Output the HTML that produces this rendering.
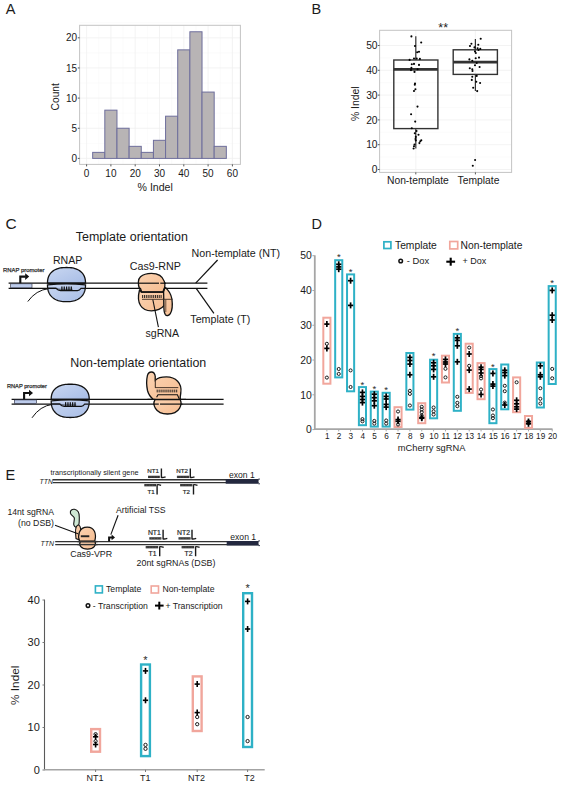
<!DOCTYPE html>
<html><head><meta charset="utf-8"><style>
html,body{margin:0;padding:0;background:#fff;}
svg{display:block;font-family:"Liberation Sans", sans-serif;}
</style></head><body>
<svg width="561" height="785" viewBox="0 0 561 785">
<rect width="561" height="785" fill="#fff"/>
<defs>
<linearGradient id="gb" x1="0" y1="0" x2="1" y2="1"><stop offset="0" stop-color="#c9d7f1"/><stop offset="1" stop-color="#a8bde6"/></linearGradient>
<linearGradient id="gp" x1="0" y1="0" x2="1" y2="1"><stop offset="0" stop-color="#fbd3b2"/><stop offset="1" stop-color="#f6bd91"/></linearGradient>
</defs>
<text x="5.80" y="13.90" font-size="14.5" text-anchor="start" fill="#1a1a1a" >A</text>
<rect x="79.60" y="25.30" width="160.80" height="139.10" fill="#fff" stroke="none" stroke-width="1" />
<line x1="98.75" y1="25.30" x2="98.75" y2="164.40" stroke="#f7f7f7" stroke-width="0.5" />
<line x1="123.05" y1="25.30" x2="123.05" y2="164.40" stroke="#f7f7f7" stroke-width="0.5" />
<line x1="147.35" y1="25.30" x2="147.35" y2="164.40" stroke="#f7f7f7" stroke-width="0.5" />
<line x1="171.65" y1="25.30" x2="171.65" y2="164.40" stroke="#f7f7f7" stroke-width="0.5" />
<line x1="195.95" y1="25.30" x2="195.95" y2="164.40" stroke="#f7f7f7" stroke-width="0.5" />
<line x1="220.25" y1="25.30" x2="220.25" y2="164.40" stroke="#f7f7f7" stroke-width="0.5" />
<line x1="79.60" y1="143.33" x2="240.40" y2="143.33" stroke="#f7f7f7" stroke-width="0.5" />
<line x1="79.60" y1="113.18" x2="240.40" y2="113.18" stroke="#f7f7f7" stroke-width="0.5" />
<line x1="79.60" y1="83.03" x2="240.40" y2="83.03" stroke="#f7f7f7" stroke-width="0.5" />
<line x1="79.60" y1="52.88" x2="240.40" y2="52.88" stroke="#f7f7f7" stroke-width="0.5" />
<line x1="79.60" y1="22.72" x2="240.40" y2="22.72" stroke="#f7f7f7" stroke-width="0.5" />
<line x1="86.60" y1="25.30" x2="86.60" y2="164.40" stroke="#f0f0f0" stroke-width="0.8" />
<line x1="110.90" y1="25.30" x2="110.90" y2="164.40" stroke="#f0f0f0" stroke-width="0.8" />
<line x1="135.20" y1="25.30" x2="135.20" y2="164.40" stroke="#f0f0f0" stroke-width="0.8" />
<line x1="159.50" y1="25.30" x2="159.50" y2="164.40" stroke="#f0f0f0" stroke-width="0.8" />
<line x1="183.80" y1="25.30" x2="183.80" y2="164.40" stroke="#f0f0f0" stroke-width="0.8" />
<line x1="208.10" y1="25.30" x2="208.10" y2="164.40" stroke="#f0f0f0" stroke-width="0.8" />
<line x1="232.40" y1="25.30" x2="232.40" y2="164.40" stroke="#f0f0f0" stroke-width="0.8" />
<line x1="79.60" y1="158.40" x2="240.40" y2="158.40" stroke="#f0f0f0" stroke-width="0.8" />
<line x1="79.60" y1="128.25" x2="240.40" y2="128.25" stroke="#f0f0f0" stroke-width="0.8" />
<line x1="79.60" y1="98.10" x2="240.40" y2="98.10" stroke="#f0f0f0" stroke-width="0.8" />
<line x1="79.60" y1="67.95" x2="240.40" y2="67.95" stroke="#f0f0f0" stroke-width="0.8" />
<line x1="79.60" y1="37.80" x2="240.40" y2="37.80" stroke="#f0f0f0" stroke-width="0.8" />
<rect x="92.67" y="152.37" width="12.15" height="6.03" fill="#b8b4b5" stroke="#6e6e9c" stroke-width="1.0" />
<rect x="104.82" y="110.16" width="12.15" height="48.24" fill="#b8b4b5" stroke="#6e6e9c" stroke-width="1.0" />
<rect x="116.97" y="128.25" width="12.15" height="30.15" fill="#b8b4b5" stroke="#6e6e9c" stroke-width="1.0" />
<rect x="129.12" y="146.34" width="12.15" height="12.06" fill="#b8b4b5" stroke="#6e6e9c" stroke-width="1.0" />
<rect x="141.28" y="152.37" width="12.15" height="6.03" fill="#b8b4b5" stroke="#6e6e9c" stroke-width="1.0" />
<rect x="153.43" y="140.31" width="12.15" height="18.09" fill="#b8b4b5" stroke="#6e6e9c" stroke-width="1.0" />
<rect x="165.57" y="116.19" width="12.15" height="42.21" fill="#b8b4b5" stroke="#6e6e9c" stroke-width="1.0" />
<rect x="177.72" y="49.86" width="12.15" height="108.54" fill="#b8b4b5" stroke="#6e6e9c" stroke-width="1.0" />
<rect x="189.88" y="31.77" width="12.15" height="126.63" fill="#b8b4b5" stroke="#6e6e9c" stroke-width="1.0" />
<rect x="202.03" y="92.07" width="12.15" height="66.33" fill="#b8b4b5" stroke="#6e6e9c" stroke-width="1.0" />
<rect x="214.18" y="146.34" width="12.15" height="12.06" fill="#b8b4b5" stroke="#6e6e9c" stroke-width="1.0" />
<rect x="79.60" y="25.30" width="160.80" height="139.10" fill="none" stroke="#c4c4c4" stroke-width="1.0" />
<line x1="77.80" y1="158.40" x2="79.60" y2="158.40" stroke="#444" stroke-width="0.9" />
<text x="77.10" y="162.00" font-size="10" text-anchor="end" fill="#1a1a1a" >0</text>
<line x1="77.80" y1="128.25" x2="79.60" y2="128.25" stroke="#444" stroke-width="0.9" />
<text x="77.10" y="131.85" font-size="10" text-anchor="end" fill="#1a1a1a" >5</text>
<line x1="77.80" y1="98.10" x2="79.60" y2="98.10" stroke="#444" stroke-width="0.9" />
<text x="77.10" y="101.70" font-size="10" text-anchor="end" fill="#1a1a1a" >10</text>
<line x1="77.80" y1="67.95" x2="79.60" y2="67.95" stroke="#444" stroke-width="0.9" />
<text x="77.10" y="71.55" font-size="10" text-anchor="end" fill="#1a1a1a" >15</text>
<line x1="77.80" y1="37.80" x2="79.60" y2="37.80" stroke="#444" stroke-width="0.9" />
<text x="77.10" y="41.40" font-size="10" text-anchor="end" fill="#1a1a1a" >20</text>
<line x1="86.60" y1="164.40" x2="86.60" y2="166.40" stroke="#444" stroke-width="0.9" />
<text x="86.60" y="176.60" font-size="10" text-anchor="middle" fill="#1a1a1a" >0</text>
<line x1="110.90" y1="164.40" x2="110.90" y2="166.40" stroke="#444" stroke-width="0.9" />
<text x="110.90" y="176.60" font-size="10" text-anchor="middle" fill="#1a1a1a" >10</text>
<line x1="135.20" y1="164.40" x2="135.20" y2="166.40" stroke="#444" stroke-width="0.9" />
<text x="135.20" y="176.60" font-size="10" text-anchor="middle" fill="#1a1a1a" >20</text>
<line x1="159.50" y1="164.40" x2="159.50" y2="166.40" stroke="#444" stroke-width="0.9" />
<text x="159.50" y="176.60" font-size="10" text-anchor="middle" fill="#1a1a1a" >30</text>
<line x1="183.80" y1="164.40" x2="183.80" y2="166.40" stroke="#444" stroke-width="0.9" />
<text x="183.80" y="176.60" font-size="10" text-anchor="middle" fill="#1a1a1a" >40</text>
<line x1="208.10" y1="164.40" x2="208.10" y2="166.40" stroke="#444" stroke-width="0.9" />
<text x="208.10" y="176.60" font-size="10" text-anchor="middle" fill="#1a1a1a" >50</text>
<line x1="232.40" y1="164.40" x2="232.40" y2="166.40" stroke="#444" stroke-width="0.9" />
<text x="232.40" y="176.60" font-size="10" text-anchor="middle" fill="#1a1a1a" >60</text>
<text x="155.20" y="190.90" font-size="10.6" text-anchor="middle" fill="#1a1a1a" >% Indel</text>
<text transform="translate(58.8,96.8) rotate(-90)" font-size="10.2" text-anchor="middle" fill="#1a1a1a">Count</text>
<text x="311.60" y="13.90" font-size="14.5" text-anchor="start" fill="#1a1a1a" >B</text>
<rect x="379.60" y="30.30" width="132.00" height="142.10" fill="#fff" stroke="none" stroke-width="1" />
<line x1="379.60" y1="157.10" x2="511.60" y2="157.10" stroke="#f7f7f7" stroke-width="0.5" />
<line x1="379.60" y1="132.30" x2="511.60" y2="132.30" stroke="#f7f7f7" stroke-width="0.5" />
<line x1="379.60" y1="107.50" x2="511.60" y2="107.50" stroke="#f7f7f7" stroke-width="0.5" />
<line x1="379.60" y1="82.70" x2="511.60" y2="82.70" stroke="#f7f7f7" stroke-width="0.5" />
<line x1="379.60" y1="57.90" x2="511.60" y2="57.90" stroke="#f7f7f7" stroke-width="0.5" />
<line x1="379.60" y1="169.50" x2="511.60" y2="169.50" stroke="#f0f0f0" stroke-width="0.8" />
<line x1="379.60" y1="144.70" x2="511.60" y2="144.70" stroke="#f0f0f0" stroke-width="0.8" />
<line x1="379.60" y1="119.90" x2="511.60" y2="119.90" stroke="#f0f0f0" stroke-width="0.8" />
<line x1="379.60" y1="95.10" x2="511.60" y2="95.10" stroke="#f0f0f0" stroke-width="0.8" />
<line x1="379.60" y1="70.30" x2="511.60" y2="70.30" stroke="#f0f0f0" stroke-width="0.8" />
<line x1="379.60" y1="45.50" x2="511.60" y2="45.50" stroke="#f0f0f0" stroke-width="0.8" />
<line x1="415.80" y1="30.30" x2="415.80" y2="172.40" stroke="#f0f0f0" stroke-width="0.8" />
<line x1="475.40" y1="30.30" x2="475.40" y2="172.40" stroke="#f0f0f0" stroke-width="0.8" />
<rect x="379.60" y="30.30" width="132.00" height="142.10" fill="none" stroke="#c4c4c4" stroke-width="1.0" />
<line x1="377.80" y1="169.50" x2="379.60" y2="169.50" stroke="#444" stroke-width="0.9" />
<text x="377.60" y="173.10" font-size="10.3" text-anchor="end" fill="#1a1a1a" >0</text>
<line x1="377.80" y1="144.70" x2="379.60" y2="144.70" stroke="#444" stroke-width="0.9" />
<text x="377.60" y="148.30" font-size="10.3" text-anchor="end" fill="#1a1a1a" >10</text>
<line x1="377.80" y1="119.90" x2="379.60" y2="119.90" stroke="#444" stroke-width="0.9" />
<text x="377.60" y="123.50" font-size="10.3" text-anchor="end" fill="#1a1a1a" >20</text>
<line x1="377.80" y1="95.10" x2="379.60" y2="95.10" stroke="#444" stroke-width="0.9" />
<text x="377.60" y="98.70" font-size="10.3" text-anchor="end" fill="#1a1a1a" >30</text>
<line x1="377.80" y1="70.30" x2="379.60" y2="70.30" stroke="#444" stroke-width="0.9" />
<text x="377.60" y="73.90" font-size="10.3" text-anchor="end" fill="#1a1a1a" >40</text>
<line x1="377.80" y1="45.50" x2="379.60" y2="45.50" stroke="#444" stroke-width="0.9" />
<text x="377.60" y="49.10" font-size="10.3" text-anchor="end" fill="#1a1a1a" >50</text>
<line x1="415.80" y1="172.40" x2="415.80" y2="174.40" stroke="#444" stroke-width="0.9" />
<line x1="475.40" y1="172.40" x2="475.40" y2="174.40" stroke="#444" stroke-width="0.9" />
<text x="417.90" y="183.50" font-size="10.3" text-anchor="middle" fill="#1a1a1a" >Non-template</text>
<text x="478.50" y="183.50" font-size="10.3" text-anchor="middle" fill="#1a1a1a" >Template</text>
<text transform="translate(358.8,103.7) rotate(-90)" font-size="10.4" text-anchor="middle" fill="#1a1a1a">% Indel</text>
<text x="443.20" y="32.10" font-size="12.5" text-anchor="middle" fill="#222" >**</text>
<line x1="415.80" y1="36.30" x2="415.80" y2="60.00" stroke="#333" stroke-width="1.2" />
<line x1="415.80" y1="128.60" x2="415.80" y2="148.60" stroke="#333" stroke-width="1.2" />
<rect x="393.80" y="60.00" width="44.10" height="68.60" fill="none" stroke="#333" stroke-width="1.4" />
<line x1="393.80" y1="69.40" x2="437.90" y2="69.40" stroke="#333" stroke-width="2.6" />
<line x1="475.40" y1="38.90" x2="475.40" y2="49.80" stroke="#333" stroke-width="1.2" />
<line x1="475.40" y1="74.40" x2="475.40" y2="91.00" stroke="#333" stroke-width="1.2" />
<rect x="453.20" y="49.80" width="44.20" height="24.60" fill="none" stroke="#333" stroke-width="1.4" />
<line x1="453.20" y1="62.10" x2="497.40" y2="62.10" stroke="#333" stroke-width="2.6" />
<circle cx="411.40" cy="36.40" r="1.05" fill="#000" stroke="none" stroke-width="1"/>
<circle cx="421.20" cy="42.50" r="1.05" fill="#000" stroke="none" stroke-width="1"/>
<circle cx="415.00" cy="46.00" r="1.05" fill="#000" stroke="none" stroke-width="1"/>
<circle cx="417.20" cy="52.30" r="1.05" fill="#000" stroke="none" stroke-width="1"/>
<circle cx="419.00" cy="51.80" r="1.05" fill="#000" stroke="none" stroke-width="1"/>
<circle cx="409.60" cy="59.90" r="1.05" fill="#000" stroke="none" stroke-width="1"/>
<circle cx="414.00" cy="58.50" r="1.05" fill="#000" stroke="none" stroke-width="1"/>
<circle cx="416.70" cy="58.50" r="1.05" fill="#000" stroke="none" stroke-width="1"/>
<circle cx="419.90" cy="58.90" r="1.05" fill="#000" stroke="none" stroke-width="1"/>
<circle cx="411.80" cy="64.30" r="1.05" fill="#000" stroke="none" stroke-width="1"/>
<circle cx="414.00" cy="63.90" r="1.05" fill="#000" stroke="none" stroke-width="1"/>
<circle cx="419.00" cy="64.90" r="1.05" fill="#000" stroke="none" stroke-width="1"/>
<circle cx="411.40" cy="67.90" r="1.05" fill="#000" stroke="none" stroke-width="1"/>
<circle cx="411.00" cy="70.10" r="1.05" fill="#000" stroke="none" stroke-width="1"/>
<circle cx="414.50" cy="71.90" r="1.05" fill="#000" stroke="none" stroke-width="1"/>
<circle cx="417.60" cy="69.20" r="1.05" fill="#000" stroke="none" stroke-width="1"/>
<circle cx="415.00" cy="83.50" r="1.05" fill="#000" stroke="none" stroke-width="1"/>
<circle cx="414.80" cy="84.80" r="1.05" fill="#000" stroke="none" stroke-width="1"/>
<circle cx="414.00" cy="91.00" r="1.05" fill="#000" stroke="none" stroke-width="1"/>
<circle cx="415.40" cy="89.30" r="1.05" fill="#000" stroke="none" stroke-width="1"/>
<circle cx="417.50" cy="106.60" r="1.05" fill="#000" stroke="none" stroke-width="1"/>
<circle cx="411.10" cy="114.20" r="1.05" fill="#000" stroke="none" stroke-width="1"/>
<circle cx="415.20" cy="121.60" r="1.05" fill="#000" stroke="none" stroke-width="1"/>
<circle cx="411.80" cy="128.20" r="1.05" fill="#000" stroke="none" stroke-width="1"/>
<circle cx="414.80" cy="133.30" r="1.05" fill="#000" stroke="none" stroke-width="1"/>
<circle cx="418.50" cy="134.70" r="1.05" fill="#000" stroke="none" stroke-width="1"/>
<circle cx="415.80" cy="136.90" r="1.05" fill="#000" stroke="none" stroke-width="1"/>
<circle cx="415.80" cy="140.50" r="1.05" fill="#000" stroke="none" stroke-width="1"/>
<circle cx="420.30" cy="141.30" r="1.05" fill="#000" stroke="none" stroke-width="1"/>
<circle cx="419.40" cy="143.10" r="1.05" fill="#000" stroke="none" stroke-width="1"/>
<circle cx="414.50" cy="144.50" r="1.05" fill="#000" stroke="none" stroke-width="1"/>
<circle cx="414.00" cy="146.20" r="1.05" fill="#000" stroke="none" stroke-width="1"/>
<circle cx="413.60" cy="148.50" r="1.05" fill="#000" stroke="none" stroke-width="1"/>
<circle cx="416.50" cy="131.00" r="1.05" fill="#000" stroke="none" stroke-width="1"/>
<circle cx="415.50" cy="139.00" r="1.05" fill="#000" stroke="none" stroke-width="1"/>
<circle cx="421.30" cy="140.20" r="1.05" fill="#000" stroke="none" stroke-width="1"/>
<circle cx="480.70" cy="38.70" r="1.05" fill="#000" stroke="none" stroke-width="1"/>
<circle cx="471.40" cy="43.80" r="1.05" fill="#000" stroke="none" stroke-width="1"/>
<circle cx="470.00" cy="46.00" r="1.05" fill="#000" stroke="none" stroke-width="1"/>
<circle cx="478.30" cy="44.70" r="1.05" fill="#000" stroke="none" stroke-width="1"/>
<circle cx="474.50" cy="47.40" r="1.05" fill="#000" stroke="none" stroke-width="1"/>
<circle cx="477.60" cy="48.30" r="1.05" fill="#000" stroke="none" stroke-width="1"/>
<circle cx="480.30" cy="48.90" r="1.05" fill="#000" stroke="none" stroke-width="1"/>
<circle cx="478.50" cy="50.00" r="1.05" fill="#000" stroke="none" stroke-width="1"/>
<circle cx="475.00" cy="51.40" r="1.05" fill="#000" stroke="none" stroke-width="1"/>
<circle cx="475.80" cy="53.00" r="1.05" fill="#000" stroke="none" stroke-width="1"/>
<circle cx="475.70" cy="58.30" r="1.05" fill="#000" stroke="none" stroke-width="1"/>
<circle cx="479.00" cy="57.60" r="1.05" fill="#000" stroke="none" stroke-width="1"/>
<circle cx="469.40" cy="59.40" r="1.05" fill="#000" stroke="none" stroke-width="1"/>
<circle cx="472.30" cy="60.70" r="1.05" fill="#000" stroke="none" stroke-width="1"/>
<circle cx="476.70" cy="63.00" r="1.05" fill="#000" stroke="none" stroke-width="1"/>
<circle cx="475.00" cy="65.20" r="1.05" fill="#000" stroke="none" stroke-width="1"/>
<circle cx="479.60" cy="67.00" r="1.05" fill="#000" stroke="none" stroke-width="1"/>
<circle cx="469.80" cy="68.30" r="1.05" fill="#000" stroke="none" stroke-width="1"/>
<circle cx="472.30" cy="69.20" r="1.05" fill="#000" stroke="none" stroke-width="1"/>
<circle cx="472.50" cy="71.00" r="1.05" fill="#000" stroke="none" stroke-width="1"/>
<circle cx="472.30" cy="76.80" r="1.05" fill="#000" stroke="none" stroke-width="1"/>
<circle cx="471.80" cy="79.90" r="1.05" fill="#000" stroke="none" stroke-width="1"/>
<circle cx="476.30" cy="81.70" r="1.05" fill="#000" stroke="none" stroke-width="1"/>
<circle cx="480.10" cy="83.00" r="1.05" fill="#000" stroke="none" stroke-width="1"/>
<circle cx="473.20" cy="87.80" r="1.05" fill="#000" stroke="none" stroke-width="1"/>
<circle cx="477.20" cy="91.10" r="1.05" fill="#000" stroke="none" stroke-width="1"/>
<circle cx="476.70" cy="75.90" r="1.05" fill="#000" stroke="none" stroke-width="1"/>
<circle cx="475.10" cy="160.00" r="1.05" fill="#000" stroke="none" stroke-width="1"/>
<circle cx="472.80" cy="165.80" r="1.05" fill="#000" stroke="none" stroke-width="1"/>
<text x="311.50" y="228.80" font-size="14.5" text-anchor="start" fill="#1a1a1a" >D</text>
<line x1="314.80" y1="255.30" x2="314.80" y2="429.20" stroke="#a6a6a6" stroke-width="1.8" />
<line x1="314.00" y1="429.10" x2="552.50" y2="429.10" stroke="#a6a6a6" stroke-width="1.6" />
<line x1="312.40" y1="429.60" x2="314.60" y2="429.60" stroke="#a6a6a6" stroke-width="1.0" />
<text x="311.90" y="433.30" font-size="10.4" text-anchor="end" fill="#1a1a1a" >0</text>
<line x1="312.40" y1="394.82" x2="314.60" y2="394.82" stroke="#a6a6a6" stroke-width="1.0" />
<text x="311.90" y="398.52" font-size="10.4" text-anchor="end" fill="#1a1a1a" >10</text>
<line x1="312.40" y1="360.04" x2="314.60" y2="360.04" stroke="#a6a6a6" stroke-width="1.0" />
<text x="311.90" y="363.74" font-size="10.4" text-anchor="end" fill="#1a1a1a" >20</text>
<line x1="312.40" y1="325.26" x2="314.60" y2="325.26" stroke="#a6a6a6" stroke-width="1.0" />
<text x="311.90" y="328.96" font-size="10.4" text-anchor="end" fill="#1a1a1a" >30</text>
<line x1="312.40" y1="290.48" x2="314.60" y2="290.48" stroke="#a6a6a6" stroke-width="1.0" />
<text x="311.90" y="294.18" font-size="10.4" text-anchor="end" fill="#1a1a1a" >40</text>
<line x1="312.40" y1="255.70" x2="314.60" y2="255.70" stroke="#a6a6a6" stroke-width="1.0" />
<text x="311.90" y="259.40" font-size="10.4" text-anchor="end" fill="#1a1a1a" >50</text>
<line x1="326.87" y1="429.20" x2="326.87" y2="431.40" stroke="#a6a6a6" stroke-width="1.0" />
<text x="327.17" y="438.70" font-size="8.2" text-anchor="middle" fill="#1a1a1a" >1</text>
<line x1="338.73" y1="429.20" x2="338.73" y2="431.40" stroke="#a6a6a6" stroke-width="1.0" />
<text x="339.03" y="438.70" font-size="8.2" text-anchor="middle" fill="#1a1a1a" >2</text>
<line x1="350.59" y1="429.20" x2="350.59" y2="431.40" stroke="#a6a6a6" stroke-width="1.0" />
<text x="350.89" y="438.70" font-size="8.2" text-anchor="middle" fill="#1a1a1a" >3</text>
<line x1="362.45" y1="429.20" x2="362.45" y2="431.40" stroke="#a6a6a6" stroke-width="1.0" />
<text x="362.75" y="438.70" font-size="8.2" text-anchor="middle" fill="#1a1a1a" >4</text>
<line x1="374.31" y1="429.20" x2="374.31" y2="431.40" stroke="#a6a6a6" stroke-width="1.0" />
<text x="374.61" y="438.70" font-size="8.2" text-anchor="middle" fill="#1a1a1a" >5</text>
<line x1="386.17" y1="429.20" x2="386.17" y2="431.40" stroke="#a6a6a6" stroke-width="1.0" />
<text x="386.47" y="438.70" font-size="8.2" text-anchor="middle" fill="#1a1a1a" >6</text>
<line x1="398.03" y1="429.20" x2="398.03" y2="431.40" stroke="#a6a6a6" stroke-width="1.0" />
<text x="398.33" y="438.70" font-size="8.2" text-anchor="middle" fill="#1a1a1a" >7</text>
<line x1="409.89" y1="429.20" x2="409.89" y2="431.40" stroke="#a6a6a6" stroke-width="1.0" />
<text x="410.19" y="438.70" font-size="8.2" text-anchor="middle" fill="#1a1a1a" >8</text>
<line x1="421.75" y1="429.20" x2="421.75" y2="431.40" stroke="#a6a6a6" stroke-width="1.0" />
<text x="422.05" y="438.70" font-size="8.2" text-anchor="middle" fill="#1a1a1a" >9</text>
<line x1="433.61" y1="429.20" x2="433.61" y2="431.40" stroke="#a6a6a6" stroke-width="1.0" />
<text x="433.91" y="438.70" font-size="8.2" text-anchor="middle" fill="#1a1a1a" >10</text>
<line x1="445.47" y1="429.20" x2="445.47" y2="431.40" stroke="#a6a6a6" stroke-width="1.0" />
<text x="445.77" y="438.70" font-size="8.2" text-anchor="middle" fill="#1a1a1a" >11</text>
<line x1="457.33" y1="429.20" x2="457.33" y2="431.40" stroke="#a6a6a6" stroke-width="1.0" />
<text x="457.63" y="438.70" font-size="8.2" text-anchor="middle" fill="#1a1a1a" >12</text>
<line x1="469.19" y1="429.20" x2="469.19" y2="431.40" stroke="#a6a6a6" stroke-width="1.0" />
<text x="469.49" y="438.70" font-size="8.2" text-anchor="middle" fill="#1a1a1a" >13</text>
<line x1="481.05" y1="429.20" x2="481.05" y2="431.40" stroke="#a6a6a6" stroke-width="1.0" />
<text x="481.35" y="438.70" font-size="8.2" text-anchor="middle" fill="#1a1a1a" >14</text>
<line x1="492.91" y1="429.20" x2="492.91" y2="431.40" stroke="#a6a6a6" stroke-width="1.0" />
<text x="493.21" y="438.70" font-size="8.2" text-anchor="middle" fill="#1a1a1a" >15</text>
<line x1="504.77" y1="429.20" x2="504.77" y2="431.40" stroke="#a6a6a6" stroke-width="1.0" />
<text x="505.07" y="438.70" font-size="8.2" text-anchor="middle" fill="#1a1a1a" >16</text>
<line x1="516.63" y1="429.20" x2="516.63" y2="431.40" stroke="#a6a6a6" stroke-width="1.0" />
<text x="516.93" y="438.70" font-size="8.2" text-anchor="middle" fill="#1a1a1a" >17</text>
<line x1="528.49" y1="429.20" x2="528.49" y2="431.40" stroke="#a6a6a6" stroke-width="1.0" />
<text x="528.79" y="438.70" font-size="8.2" text-anchor="middle" fill="#1a1a1a" >18</text>
<line x1="540.35" y1="429.20" x2="540.35" y2="431.40" stroke="#a6a6a6" stroke-width="1.0" />
<text x="540.65" y="438.70" font-size="8.2" text-anchor="middle" fill="#1a1a1a" >19</text>
<line x1="552.21" y1="429.20" x2="552.21" y2="431.40" stroke="#a6a6a6" stroke-width="1.0" />
<text x="552.51" y="438.70" font-size="8.2" text-anchor="middle" fill="#1a1a1a" >20</text>
<text x="431.60" y="450.60" font-size="9.3" text-anchor="middle" fill="#1a1a1a" >mCherry sgRNA</text>
<rect x="323.32" y="317.70" width="7.10" height="66.00" fill="none" stroke="#f1a69c" stroke-width="2.0" />
<circle cx="326.87" cy="343.80" r="1.55" fill="none" stroke="#111" stroke-width="0.95"/>
<circle cx="326.87" cy="377.60" r="1.55" fill="none" stroke="#111" stroke-width="0.95"/>
<line x1="324.27" y1="324.10" x2="329.47" y2="324.10" stroke="#000" stroke-width="1.7" />
<line x1="326.87" y1="321.10" x2="326.87" y2="327.10" stroke="#000" stroke-width="1.7" />
<line x1="324.27" y1="348.40" x2="329.47" y2="348.40" stroke="#000" stroke-width="1.7" />
<line x1="326.87" y1="345.40" x2="326.87" y2="351.40" stroke="#000" stroke-width="1.7" />
<rect x="335.18" y="260.20" width="7.10" height="117.20" fill="none" stroke="#2eb1c6" stroke-width="2.0" />
<circle cx="338.73" cy="369.00" r="1.55" fill="none" stroke="#111" stroke-width="0.95"/>
<circle cx="338.73" cy="373.90" r="1.55" fill="none" stroke="#111" stroke-width="0.95"/>
<line x1="336.13" y1="264.30" x2="341.33" y2="264.30" stroke="#000" stroke-width="1.7" />
<line x1="338.73" y1="261.30" x2="338.73" y2="267.30" stroke="#000" stroke-width="1.7" />
<line x1="336.13" y1="266.90" x2="341.33" y2="266.90" stroke="#000" stroke-width="1.7" />
<line x1="338.73" y1="263.90" x2="338.73" y2="269.90" stroke="#000" stroke-width="1.7" />
<line x1="336.13" y1="269.20" x2="341.33" y2="269.20" stroke="#000" stroke-width="1.7" />
<line x1="338.73" y1="266.20" x2="338.73" y2="272.20" stroke="#000" stroke-width="1.7" />
<text x="338.73" y="260.00" font-size="9.5" text-anchor="middle" fill="#2a2a2a" >*</text>
<rect x="347.04" y="274.40" width="7.10" height="116.90" fill="none" stroke="#2eb1c6" stroke-width="2.0" />
<circle cx="350.59" cy="370.40" r="1.55" fill="none" stroke="#111" stroke-width="0.95"/>
<circle cx="350.59" cy="387.00" r="1.55" fill="none" stroke="#111" stroke-width="0.95"/>
<line x1="347.99" y1="280.70" x2="353.19" y2="280.70" stroke="#000" stroke-width="1.7" />
<line x1="350.59" y1="277.70" x2="350.59" y2="283.70" stroke="#000" stroke-width="1.7" />
<line x1="347.99" y1="305.40" x2="353.19" y2="305.40" stroke="#000" stroke-width="1.7" />
<line x1="350.59" y1="302.40" x2="350.59" y2="308.40" stroke="#000" stroke-width="1.7" />
<text x="350.59" y="274.50" font-size="9.5" text-anchor="middle" fill="#2a2a2a" >*</text>
<rect x="358.90" y="387.10" width="7.10" height="38.10" fill="none" stroke="#2eb1c6" stroke-width="2.0" />
<circle cx="362.45" cy="419.10" r="1.55" fill="none" stroke="#111" stroke-width="0.95"/>
<circle cx="362.45" cy="421.30" r="1.55" fill="none" stroke="#111" stroke-width="0.95"/>
<line x1="359.85" y1="392.40" x2="365.05" y2="392.40" stroke="#000" stroke-width="1.7" />
<line x1="362.45" y1="389.40" x2="362.45" y2="395.40" stroke="#000" stroke-width="1.7" />
<line x1="359.85" y1="396.40" x2="365.05" y2="396.40" stroke="#000" stroke-width="1.7" />
<line x1="362.45" y1="393.40" x2="362.45" y2="399.40" stroke="#000" stroke-width="1.7" />
<line x1="359.85" y1="399.50" x2="365.05" y2="399.50" stroke="#000" stroke-width="1.7" />
<line x1="362.45" y1="396.50" x2="362.45" y2="402.50" stroke="#000" stroke-width="1.7" />
<line x1="359.85" y1="402.60" x2="365.05" y2="402.60" stroke="#000" stroke-width="1.7" />
<line x1="362.45" y1="399.60" x2="362.45" y2="405.60" stroke="#000" stroke-width="1.7" />
<text x="362.45" y="387.70" font-size="9.5" text-anchor="middle" fill="#2a2a2a" >*</text>
<rect x="370.76" y="391.60" width="7.10" height="35.00" fill="none" stroke="#2eb1c6" stroke-width="2.0" />
<circle cx="374.31" cy="420.90" r="1.55" fill="none" stroke="#111" stroke-width="0.95"/>
<circle cx="374.31" cy="423.60" r="1.55" fill="none" stroke="#111" stroke-width="0.95"/>
<line x1="371.71" y1="394.20" x2="376.91" y2="394.20" stroke="#000" stroke-width="1.7" />
<line x1="374.31" y1="391.20" x2="374.31" y2="397.20" stroke="#000" stroke-width="1.7" />
<line x1="371.71" y1="397.70" x2="376.91" y2="397.70" stroke="#000" stroke-width="1.7" />
<line x1="374.31" y1="394.70" x2="374.31" y2="400.70" stroke="#000" stroke-width="1.7" />
<line x1="371.71" y1="400.80" x2="376.91" y2="400.80" stroke="#000" stroke-width="1.7" />
<line x1="374.31" y1="397.80" x2="374.31" y2="403.80" stroke="#000" stroke-width="1.7" />
<line x1="371.71" y1="405.70" x2="376.91" y2="405.70" stroke="#000" stroke-width="1.7" />
<line x1="374.31" y1="402.70" x2="374.31" y2="408.70" stroke="#000" stroke-width="1.7" />
<text x="374.31" y="392.10" font-size="9.5" text-anchor="middle" fill="#2a2a2a" >*</text>
<rect x="382.62" y="392.80" width="7.10" height="33.80" fill="none" stroke="#2eb1c6" stroke-width="2.0" />
<circle cx="386.17" cy="420.50" r="1.55" fill="none" stroke="#111" stroke-width="0.95"/>
<circle cx="386.17" cy="423.60" r="1.55" fill="none" stroke="#111" stroke-width="0.95"/>
<line x1="383.57" y1="396.40" x2="388.77" y2="396.40" stroke="#000" stroke-width="1.7" />
<line x1="386.17" y1="393.40" x2="386.17" y2="399.40" stroke="#000" stroke-width="1.7" />
<line x1="383.57" y1="399.00" x2="388.77" y2="399.00" stroke="#000" stroke-width="1.7" />
<line x1="386.17" y1="396.00" x2="386.17" y2="402.00" stroke="#000" stroke-width="1.7" />
<line x1="383.57" y1="404.40" x2="388.77" y2="404.40" stroke="#000" stroke-width="1.7" />
<line x1="386.17" y1="401.40" x2="386.17" y2="407.40" stroke="#000" stroke-width="1.7" />
<line x1="383.57" y1="407.10" x2="388.77" y2="407.10" stroke="#000" stroke-width="1.7" />
<line x1="386.17" y1="404.10" x2="386.17" y2="410.10" stroke="#000" stroke-width="1.7" />
<text x="386.17" y="393.00" font-size="9.5" text-anchor="middle" fill="#2a2a2a" >*</text>
<rect x="394.48" y="407.20" width="7.10" height="19.80" fill="none" stroke="#f1a69c" stroke-width="2.0" />
<circle cx="398.03" cy="411.50" r="1.55" fill="none" stroke="#111" stroke-width="0.95"/>
<circle cx="398.03" cy="424.50" r="1.55" fill="none" stroke="#111" stroke-width="0.95"/>
<line x1="395.43" y1="419.60" x2="400.63" y2="419.60" stroke="#000" stroke-width="1.7" />
<line x1="398.03" y1="416.60" x2="398.03" y2="422.60" stroke="#000" stroke-width="1.7" />
<line x1="395.43" y1="421.30" x2="400.63" y2="421.30" stroke="#000" stroke-width="1.7" />
<line x1="398.03" y1="418.30" x2="398.03" y2="424.30" stroke="#000" stroke-width="1.7" />
<rect x="406.34" y="353.00" width="7.10" height="56.60" fill="none" stroke="#2eb1c6" stroke-width="2.0" />
<circle cx="409.89" cy="390.80" r="1.55" fill="none" stroke="#111" stroke-width="0.95"/>
<circle cx="409.89" cy="393.90" r="1.55" fill="none" stroke="#111" stroke-width="0.95"/>
<circle cx="409.89" cy="405.50" r="1.55" fill="none" stroke="#111" stroke-width="0.95"/>
<line x1="407.29" y1="357.40" x2="412.49" y2="357.40" stroke="#000" stroke-width="1.7" />
<line x1="409.89" y1="354.40" x2="409.89" y2="360.40" stroke="#000" stroke-width="1.7" />
<line x1="407.29" y1="360.50" x2="412.49" y2="360.50" stroke="#000" stroke-width="1.7" />
<line x1="409.89" y1="357.50" x2="409.89" y2="363.50" stroke="#000" stroke-width="1.7" />
<line x1="407.29" y1="364.10" x2="412.49" y2="364.10" stroke="#000" stroke-width="1.7" />
<line x1="409.89" y1="361.10" x2="409.89" y2="367.10" stroke="#000" stroke-width="1.7" />
<line x1="407.29" y1="374.80" x2="412.49" y2="374.80" stroke="#000" stroke-width="1.7" />
<line x1="409.89" y1="371.80" x2="409.89" y2="377.80" stroke="#000" stroke-width="1.7" />
<rect x="418.20" y="403.20" width="7.10" height="20.00" fill="none" stroke="#f1a69c" stroke-width="2.0" />
<circle cx="421.75" cy="406.80" r="1.55" fill="none" stroke="#111" stroke-width="0.95"/>
<circle cx="421.75" cy="409.50" r="1.55" fill="none" stroke="#111" stroke-width="0.95"/>
<circle cx="421.75" cy="412.20" r="1.55" fill="none" stroke="#111" stroke-width="0.95"/>
<circle cx="421.75" cy="415.50" r="1.55" fill="none" stroke="#111" stroke-width="0.95"/>
<line x1="419.15" y1="417.50" x2="424.35" y2="417.50" stroke="#000" stroke-width="1.7" />
<line x1="421.75" y1="414.50" x2="421.75" y2="420.50" stroke="#000" stroke-width="1.7" />
<line x1="419.15" y1="418.20" x2="424.35" y2="418.20" stroke="#000" stroke-width="1.7" />
<line x1="421.75" y1="415.20" x2="421.75" y2="421.20" stroke="#000" stroke-width="1.7" />
<rect x="430.06" y="359.70" width="7.10" height="58.60" fill="none" stroke="#2eb1c6" stroke-width="2.0" />
<circle cx="433.61" cy="407.50" r="1.55" fill="none" stroke="#111" stroke-width="0.95"/>
<circle cx="433.61" cy="411.30" r="1.55" fill="none" stroke="#111" stroke-width="0.95"/>
<circle cx="433.61" cy="414.50" r="1.55" fill="none" stroke="#111" stroke-width="0.95"/>
<line x1="431.01" y1="362.70" x2="436.21" y2="362.70" stroke="#000" stroke-width="1.7" />
<line x1="433.61" y1="359.70" x2="433.61" y2="365.70" stroke="#000" stroke-width="1.7" />
<line x1="431.01" y1="365.80" x2="436.21" y2="365.80" stroke="#000" stroke-width="1.7" />
<line x1="433.61" y1="362.80" x2="433.61" y2="368.80" stroke="#000" stroke-width="1.7" />
<line x1="431.01" y1="369.40" x2="436.21" y2="369.40" stroke="#000" stroke-width="1.7" />
<line x1="433.61" y1="366.40" x2="433.61" y2="372.40" stroke="#000" stroke-width="1.7" />
<line x1="431.01" y1="376.80" x2="436.21" y2="376.80" stroke="#000" stroke-width="1.7" />
<line x1="433.61" y1="373.80" x2="433.61" y2="379.80" stroke="#000" stroke-width="1.7" />
<text x="433.61" y="359.30" font-size="9.5" text-anchor="middle" fill="#2a2a2a" >*</text>
<rect x="441.92" y="355.70" width="7.10" height="26.80" fill="none" stroke="#f1a69c" stroke-width="2.0" />
<circle cx="445.47" cy="368.80" r="1.55" fill="none" stroke="#111" stroke-width="0.95"/>
<circle cx="445.47" cy="377.40" r="1.55" fill="none" stroke="#111" stroke-width="0.95"/>
<line x1="442.87" y1="359.40" x2="448.07" y2="359.40" stroke="#000" stroke-width="1.7" />
<line x1="445.47" y1="356.40" x2="445.47" y2="362.40" stroke="#000" stroke-width="1.7" />
<line x1="442.87" y1="362.00" x2="448.07" y2="362.00" stroke="#000" stroke-width="1.7" />
<line x1="445.47" y1="359.00" x2="445.47" y2="365.00" stroke="#000" stroke-width="1.7" />
<line x1="442.87" y1="364.00" x2="448.07" y2="364.00" stroke="#000" stroke-width="1.7" />
<line x1="445.47" y1="361.00" x2="445.47" y2="367.00" stroke="#000" stroke-width="1.7" />
<rect x="453.78" y="333.90" width="7.10" height="76.90" fill="none" stroke="#2eb1c6" stroke-width="2.0" />
<circle cx="457.33" cy="396.80" r="1.55" fill="none" stroke="#111" stroke-width="0.95"/>
<circle cx="457.33" cy="402.80" r="1.55" fill="none" stroke="#111" stroke-width="0.95"/>
<circle cx="457.33" cy="406.20" r="1.55" fill="none" stroke="#111" stroke-width="0.95"/>
<line x1="454.73" y1="337.80" x2="459.93" y2="337.80" stroke="#000" stroke-width="1.7" />
<line x1="457.33" y1="334.80" x2="457.33" y2="340.80" stroke="#000" stroke-width="1.7" />
<line x1="454.73" y1="340.40" x2="459.93" y2="340.40" stroke="#000" stroke-width="1.7" />
<line x1="457.33" y1="337.40" x2="457.33" y2="343.40" stroke="#000" stroke-width="1.7" />
<line x1="454.73" y1="345.80" x2="459.93" y2="345.80" stroke="#000" stroke-width="1.7" />
<line x1="457.33" y1="342.80" x2="457.33" y2="348.80" stroke="#000" stroke-width="1.7" />
<line x1="454.73" y1="361.80" x2="459.93" y2="361.80" stroke="#000" stroke-width="1.7" />
<line x1="457.33" y1="358.80" x2="457.33" y2="364.80" stroke="#000" stroke-width="1.7" />
<text x="457.33" y="333.70" font-size="9.5" text-anchor="middle" fill="#2a2a2a" >*</text>
<rect x="465.64" y="343.70" width="7.10" height="49.20" fill="none" stroke="#f1a69c" stroke-width="2.0" />
<circle cx="469.19" cy="347.60" r="1.55" fill="none" stroke="#111" stroke-width="0.95"/>
<circle cx="469.19" cy="365.80" r="1.55" fill="none" stroke="#111" stroke-width="0.95"/>
<line x1="466.59" y1="354.00" x2="471.79" y2="354.00" stroke="#000" stroke-width="1.7" />
<line x1="469.19" y1="351.00" x2="469.19" y2="357.00" stroke="#000" stroke-width="1.7" />
<line x1="466.59" y1="370.10" x2="471.79" y2="370.10" stroke="#000" stroke-width="1.7" />
<line x1="469.19" y1="367.10" x2="469.19" y2="373.10" stroke="#000" stroke-width="1.7" />
<line x1="466.59" y1="389.10" x2="471.79" y2="389.10" stroke="#000" stroke-width="1.7" />
<line x1="469.19" y1="386.10" x2="469.19" y2="392.10" stroke="#000" stroke-width="1.7" />
<rect x="477.50" y="363.10" width="7.10" height="36.10" fill="none" stroke="#f1a69c" stroke-width="2.0" />
<circle cx="481.05" cy="376.10" r="1.55" fill="none" stroke="#111" stroke-width="0.95"/>
<circle cx="481.05" cy="378.40" r="1.55" fill="none" stroke="#111" stroke-width="0.95"/>
<circle cx="481.05" cy="389.50" r="1.55" fill="none" stroke="#111" stroke-width="0.95"/>
<line x1="478.45" y1="367.20" x2="483.65" y2="367.20" stroke="#000" stroke-width="1.7" />
<line x1="481.05" y1="364.20" x2="481.05" y2="370.20" stroke="#000" stroke-width="1.7" />
<line x1="478.45" y1="369.40" x2="483.65" y2="369.40" stroke="#000" stroke-width="1.7" />
<line x1="481.05" y1="366.40" x2="481.05" y2="372.40" stroke="#000" stroke-width="1.7" />
<line x1="478.45" y1="373.00" x2="483.65" y2="373.00" stroke="#000" stroke-width="1.7" />
<line x1="481.05" y1="370.00" x2="481.05" y2="376.00" stroke="#000" stroke-width="1.7" />
<line x1="478.45" y1="394.40" x2="483.65" y2="394.40" stroke="#000" stroke-width="1.7" />
<line x1="481.05" y1="391.40" x2="481.05" y2="397.40" stroke="#000" stroke-width="1.7" />
<rect x="489.36" y="369.10" width="7.10" height="54.10" fill="none" stroke="#2eb1c6" stroke-width="2.0" />
<circle cx="492.91" cy="409.50" r="1.55" fill="none" stroke="#111" stroke-width="0.95"/>
<circle cx="492.91" cy="415.50" r="1.55" fill="none" stroke="#111" stroke-width="0.95"/>
<circle cx="492.91" cy="418.20" r="1.55" fill="none" stroke="#111" stroke-width="0.95"/>
<line x1="490.31" y1="373.40" x2="495.51" y2="373.40" stroke="#000" stroke-width="1.7" />
<line x1="492.91" y1="370.40" x2="492.91" y2="376.40" stroke="#000" stroke-width="1.7" />
<line x1="490.31" y1="384.10" x2="495.51" y2="384.10" stroke="#000" stroke-width="1.7" />
<line x1="492.91" y1="381.10" x2="492.91" y2="387.10" stroke="#000" stroke-width="1.7" />
<line x1="490.31" y1="386.10" x2="495.51" y2="386.10" stroke="#000" stroke-width="1.7" />
<line x1="492.91" y1="383.10" x2="492.91" y2="389.10" stroke="#000" stroke-width="1.7" />
<text x="492.91" y="370.00" font-size="9.5" text-anchor="middle" fill="#2a2a2a" >*</text>
<rect x="501.22" y="364.50" width="7.10" height="44.80" fill="none" stroke="#2eb1c6" stroke-width="2.0" />
<circle cx="504.77" cy="385.80" r="1.55" fill="none" stroke="#111" stroke-width="0.95"/>
<circle cx="504.77" cy="391.20" r="1.55" fill="none" stroke="#111" stroke-width="0.95"/>
<circle cx="504.77" cy="402.60" r="1.55" fill="none" stroke="#111" stroke-width="0.95"/>
<line x1="502.17" y1="370.30" x2="507.37" y2="370.30" stroke="#000" stroke-width="1.7" />
<line x1="504.77" y1="367.30" x2="504.77" y2="373.30" stroke="#000" stroke-width="1.7" />
<line x1="502.17" y1="372.60" x2="507.37" y2="372.60" stroke="#000" stroke-width="1.7" />
<line x1="504.77" y1="369.60" x2="504.77" y2="375.60" stroke="#000" stroke-width="1.7" />
<line x1="502.17" y1="375.60" x2="507.37" y2="375.60" stroke="#000" stroke-width="1.7" />
<line x1="504.77" y1="372.60" x2="504.77" y2="378.60" stroke="#000" stroke-width="1.7" />
<line x1="502.17" y1="405.00" x2="507.37" y2="405.00" stroke="#000" stroke-width="1.7" />
<line x1="504.77" y1="402.00" x2="504.77" y2="408.00" stroke="#000" stroke-width="1.7" />
<rect x="513.08" y="377.40" width="7.10" height="34.80" fill="none" stroke="#f1a69c" stroke-width="2.0" />
<circle cx="516.63" cy="382.30" r="1.55" fill="none" stroke="#111" stroke-width="0.95"/>
<line x1="514.03" y1="400.30" x2="519.23" y2="400.30" stroke="#000" stroke-width="1.7" />
<line x1="516.63" y1="397.30" x2="516.63" y2="403.30" stroke="#000" stroke-width="1.7" />
<line x1="514.03" y1="403.80" x2="519.23" y2="403.80" stroke="#000" stroke-width="1.7" />
<line x1="516.63" y1="400.80" x2="516.63" y2="406.80" stroke="#000" stroke-width="1.7" />
<line x1="514.03" y1="406.80" x2="519.23" y2="406.80" stroke="#000" stroke-width="1.7" />
<line x1="516.63" y1="403.80" x2="516.63" y2="409.80" stroke="#000" stroke-width="1.7" />
<line x1="514.03" y1="409.10" x2="519.23" y2="409.10" stroke="#000" stroke-width="1.7" />
<line x1="516.63" y1="406.10" x2="516.63" y2="412.10" stroke="#000" stroke-width="1.7" />
<rect x="524.94" y="416.00" width="7.10" height="11.90" fill="none" stroke="#f1a69c" stroke-width="2.0" />
<circle cx="528.49" cy="421.50" r="1.55" fill="none" stroke="#111" stroke-width="0.95"/>
<circle cx="528.49" cy="423.00" r="1.55" fill="none" stroke="#111" stroke-width="0.95"/>
<line x1="525.89" y1="421.50" x2="531.09" y2="421.50" stroke="#000" stroke-width="1.7" />
<line x1="528.49" y1="418.50" x2="528.49" y2="424.50" stroke="#000" stroke-width="1.7" />
<line x1="525.89" y1="423.80" x2="531.09" y2="423.80" stroke="#000" stroke-width="1.7" />
<line x1="528.49" y1="420.80" x2="528.49" y2="426.80" stroke="#000" stroke-width="1.7" />
<rect x="536.80" y="362.50" width="7.10" height="45.00" fill="none" stroke="#2eb1c6" stroke-width="2.0" />
<circle cx="540.35" cy="388.20" r="1.55" fill="none" stroke="#111" stroke-width="0.95"/>
<circle cx="540.35" cy="398.80" r="1.55" fill="none" stroke="#111" stroke-width="0.95"/>
<circle cx="540.35" cy="403.50" r="1.55" fill="none" stroke="#111" stroke-width="0.95"/>
<line x1="537.75" y1="365.80" x2="542.95" y2="365.80" stroke="#000" stroke-width="1.7" />
<line x1="540.35" y1="362.80" x2="540.35" y2="368.80" stroke="#000" stroke-width="1.7" />
<line x1="537.75" y1="374.80" x2="542.95" y2="374.80" stroke="#000" stroke-width="1.7" />
<line x1="540.35" y1="371.80" x2="540.35" y2="377.80" stroke="#000" stroke-width="1.7" />
<line x1="537.75" y1="376.80" x2="542.95" y2="376.80" stroke="#000" stroke-width="1.7" />
<line x1="540.35" y1="373.80" x2="540.35" y2="379.80" stroke="#000" stroke-width="1.7" />
<rect x="548.66" y="286.10" width="7.10" height="97.90" fill="none" stroke="#2eb1c6" stroke-width="2.0" />
<circle cx="552.21" cy="368.90" r="1.55" fill="none" stroke="#111" stroke-width="0.95"/>
<circle cx="552.21" cy="378.30" r="1.55" fill="none" stroke="#111" stroke-width="0.95"/>
<line x1="549.61" y1="290.40" x2="554.81" y2="290.40" stroke="#000" stroke-width="1.7" />
<line x1="552.21" y1="287.40" x2="552.21" y2="293.40" stroke="#000" stroke-width="1.7" />
<line x1="549.61" y1="315.20" x2="554.81" y2="315.20" stroke="#000" stroke-width="1.7" />
<line x1="552.21" y1="312.20" x2="552.21" y2="318.20" stroke="#000" stroke-width="1.7" />
<line x1="549.61" y1="320.00" x2="554.81" y2="320.00" stroke="#000" stroke-width="1.7" />
<line x1="552.21" y1="317.00" x2="552.21" y2="323.00" stroke="#000" stroke-width="1.7" />
<text x="552.21" y="285.80" font-size="9.5" text-anchor="middle" fill="#2a2a2a" >*</text>
<rect x="383.90" y="241.80" width="7.00" height="6.70" fill="none" stroke="#2eb1c6" stroke-width="1.7" />
<text x="395.00" y="248.90" font-size="10.3" text-anchor="start" fill="#1a1a1a" >Template</text>
<rect x="449.80" y="241.50" width="7.90" height="7.40" fill="none" stroke="#f1a69c" stroke-width="1.7" />
<text x="460.60" y="248.90" font-size="10.3" text-anchor="start" fill="#1a1a1a" >Non-template</text>
<circle cx="400.70" cy="261.00" r="1.80" fill="none" stroke="#111" stroke-width="1.5"/>
<text x="406.80" y="264.30" font-size="9.4" text-anchor="start" fill="#1a1a1a" >- Dox</text>
<line x1="446.30" y1="261.70" x2="455.10" y2="261.70" stroke="#000" stroke-width="2.1" />
<line x1="450.70" y1="257.70" x2="450.70" y2="265.70" stroke="#000" stroke-width="2.1" />
<text x="462.60" y="264.30" font-size="9.0" text-anchor="start" fill="#1a1a1a" >+ Dox</text>
<line x1="44.50" y1="599.60" x2="44.50" y2="769.80" stroke="#5a5a5a" stroke-width="1.1" />
<line x1="44.00" y1="769.80" x2="264.70" y2="769.80" stroke="#a3a3a3" stroke-width="1.6" />
<line x1="42.50" y1="770.00" x2="44.50" y2="770.00" stroke="#7a7a7a" stroke-width="1.0" />
<text x="39.80" y="773.90" font-size="11" text-anchor="end" fill="#1a1a1a" >0</text>
<line x1="42.50" y1="727.50" x2="44.50" y2="727.50" stroke="#7a7a7a" stroke-width="1.0" />
<text x="39.80" y="731.40" font-size="11" text-anchor="end" fill="#1a1a1a" >10</text>
<line x1="42.50" y1="685.00" x2="44.50" y2="685.00" stroke="#7a7a7a" stroke-width="1.0" />
<text x="39.80" y="688.90" font-size="11" text-anchor="end" fill="#1a1a1a" >20</text>
<line x1="42.50" y1="642.50" x2="44.50" y2="642.50" stroke="#7a7a7a" stroke-width="1.0" />
<text x="39.80" y="646.40" font-size="11" text-anchor="end" fill="#1a1a1a" >30</text>
<line x1="42.50" y1="600.00" x2="44.50" y2="600.00" stroke="#7a7a7a" stroke-width="1.0" />
<text x="39.80" y="603.90" font-size="11" text-anchor="end" fill="#1a1a1a" >40</text>
<text transform="translate(19.3,685.3) rotate(-90)" font-size="11.8" text-anchor="middle" fill="#1a1a1a">% Indel</text>
<rect x="91.20" y="729.10" width="8.80" height="22.60" fill="none" stroke="#f1a69c" stroke-width="2.4" />
<circle cx="95.60" cy="734.20" r="1.65" fill="none" stroke="#111" stroke-width="0.95"/>
<circle cx="95.60" cy="741.30" r="1.65" fill="none" stroke="#111" stroke-width="0.95"/>
<line x1="93.00" y1="736.80" x2="98.20" y2="736.80" stroke="#000" stroke-width="1.6" />
<line x1="95.60" y1="733.80" x2="95.60" y2="739.80" stroke="#000" stroke-width="1.6" />
<line x1="93.00" y1="744.50" x2="98.20" y2="744.50" stroke="#000" stroke-width="1.6" />
<line x1="95.60" y1="741.50" x2="95.60" y2="747.50" stroke="#000" stroke-width="1.6" />
<line x1="95.60" y1="769.80" x2="95.60" y2="772.00" stroke="#7a7a7a" stroke-width="1.0" />
<text x="95.00" y="781.00" font-size="9.0" text-anchor="middle" fill="#1a1a1a" >NT1</text>
<rect x="141.10" y="664.50" width="8.80" height="91.60" fill="none" stroke="#2eb1c6" stroke-width="2.4" />
<circle cx="145.50" cy="744.90" r="1.65" fill="none" stroke="#111" stroke-width="0.95"/>
<circle cx="145.50" cy="748.80" r="1.65" fill="none" stroke="#111" stroke-width="0.95"/>
<line x1="142.90" y1="670.90" x2="148.10" y2="670.90" stroke="#000" stroke-width="1.6" />
<line x1="145.50" y1="667.90" x2="145.50" y2="673.90" stroke="#000" stroke-width="1.6" />
<line x1="142.90" y1="700.30" x2="148.10" y2="700.30" stroke="#000" stroke-width="1.6" />
<line x1="145.50" y1="697.30" x2="145.50" y2="703.30" stroke="#000" stroke-width="1.6" />
<text x="145.50" y="663.80" font-size="11" text-anchor="middle" fill="#2a2a2a" >*</text>
<line x1="145.50" y1="769.80" x2="145.50" y2="772.00" stroke="#7a7a7a" stroke-width="1.0" />
<text x="145.30" y="781.00" font-size="9.0" text-anchor="middle" fill="#1a1a1a" >T1</text>
<rect x="192.80" y="676.40" width="8.80" height="54.60" fill="none" stroke="#f1a69c" stroke-width="2.4" />
<circle cx="197.20" cy="717.00" r="1.65" fill="none" stroke="#111" stroke-width="0.95"/>
<circle cx="197.20" cy="724.20" r="1.65" fill="none" stroke="#111" stroke-width="0.95"/>
<line x1="194.60" y1="684.10" x2="199.80" y2="684.10" stroke="#000" stroke-width="1.6" />
<line x1="197.20" y1="681.10" x2="197.20" y2="687.10" stroke="#000" stroke-width="1.6" />
<line x1="194.60" y1="712.60" x2="199.80" y2="712.60" stroke="#000" stroke-width="1.6" />
<line x1="197.20" y1="709.60" x2="197.20" y2="715.60" stroke="#000" stroke-width="1.6" />
<line x1="197.20" y1="769.80" x2="197.20" y2="772.00" stroke="#7a7a7a" stroke-width="1.0" />
<text x="196.50" y="781.00" font-size="9.0" text-anchor="middle" fill="#1a1a1a" >NT2</text>
<rect x="243.20" y="593.20" width="8.80" height="153.80" fill="none" stroke="#2eb1c6" stroke-width="2.4" />
<circle cx="247.60" cy="717.00" r="1.65" fill="none" stroke="#111" stroke-width="0.95"/>
<circle cx="247.60" cy="741.10" r="1.65" fill="none" stroke="#111" stroke-width="0.95"/>
<line x1="245.00" y1="601.40" x2="250.20" y2="601.40" stroke="#000" stroke-width="1.6" />
<line x1="247.60" y1="598.40" x2="247.60" y2="604.40" stroke="#000" stroke-width="1.6" />
<line x1="245.00" y1="629.00" x2="250.20" y2="629.00" stroke="#000" stroke-width="1.6" />
<line x1="247.60" y1="626.00" x2="247.60" y2="632.00" stroke="#000" stroke-width="1.6" />
<text x="247.60" y="591.90" font-size="11" text-anchor="middle" fill="#2a2a2a" >*</text>
<line x1="247.60" y1="769.80" x2="247.60" y2="772.00" stroke="#7a7a7a" stroke-width="1.0" />
<text x="249.50" y="781.00" font-size="9.0" text-anchor="middle" fill="#1a1a1a" >T2</text>
<rect x="95.40" y="585.90" width="7.00" height="7.00" fill="none" stroke="#2eb1c6" stroke-width="1.6" />
<text x="106.00" y="592.10" font-size="8.7" text-anchor="start" fill="#1a1a1a" >Template</text>
<rect x="151.20" y="586.00" width="7.30" height="7.00" fill="none" stroke="#f1a69c" stroke-width="1.6" />
<text x="162.40" y="592.10" font-size="8.7" text-anchor="start" fill="#1a1a1a" >Non-template</text>
<circle cx="88.00" cy="605.60" r="1.80" fill="none" stroke="#111" stroke-width="1.5"/>
<text x="92.80" y="608.70" font-size="8.7" text-anchor="start" fill="#1a1a1a" >- Transcription</text>
<line x1="155.00" y1="605.60" x2="163.60" y2="605.60" stroke="#000" stroke-width="2.0" />
<line x1="159.30" y1="601.70" x2="159.30" y2="609.50" stroke="#000" stroke-width="2.0" />
<text x="165.40" y="608.70" font-size="8.7" text-anchor="start" fill="#1a1a1a" >+ Transcription</text>
<text x="5.40" y="228.90" font-size="15.4" text-anchor="start" fill="#1a1a1a" >C</text>
<text x="75.80" y="241.00" font-size="12.45" text-anchor="start" fill="#1a1a1a" >Template orientation</text>
<text x="70.20" y="366.70" font-size="12.43" text-anchor="start" fill="#1a1a1a" >Non-template orientation</text>
<line x1="8.60" y1="283.20" x2="207.40" y2="283.20" stroke="#111" stroke-width="1.2" />
<line x1="8.60" y1="288.40" x2="207.40" y2="288.40" stroke="#111" stroke-width="1.2" />
<rect x="10.70" y="283.80" width="21.30" height="4.00" fill="#bccbeb" stroke="#223" stroke-width="0.6" />
<path d="M20.3,283.2 L20.3,276.6 L25.7,276.6" fill="none" stroke="#111" stroke-width="2.1" />
<path d="M25.2,273.3 L29.2,276.6 L25.2,279.9 Z" fill="#111" stroke="none" stroke-width="0" />
<text x="3.00" y="271.70" font-size="5.9" text-anchor="start" fill="#1a1a1a" stroke="#333" stroke-width="0.25">RNAP promoter</text>
<path d="M27.8,301.5 Q36,290 49,288.6" fill="none" stroke="#111" stroke-width="1.0" />
<path d="M85.50,283.20 L85.47,281.66 L85.36,280.42 L85.19,279.29 L84.95,278.23 L84.64,277.22 L84.26,276.27 L83.82,275.36 L83.31,274.50 L82.74,273.68 L82.10,272.91 L81.40,272.19 L80.65,271.51 L79.83,270.88 L78.95,270.31 L78.02,269.78 L77.03,269.31 L75.99,268.89 L74.89,268.52 L73.73,268.21 L72.51,267.96 L71.23,267.76 L69.86,267.61 L68.37,267.53 L66.50,267.50 L64.63,267.53 L63.14,267.61 L61.77,267.76 L60.49,267.96 L59.27,268.21 L58.11,268.52 L57.01,268.89 L55.97,269.31 L54.98,269.78 L54.05,270.31 L53.17,270.88 L52.35,271.51 L51.60,272.19 L50.90,272.91 L50.26,273.68 L49.69,274.50 L49.18,275.36 L48.74,276.27 L48.36,277.22 L48.05,278.23 L47.81,279.29 L47.64,280.42 L47.53,281.66 L47.50,283.20 Z" fill="url(#gb)" stroke="#111" stroke-width="1.3" />
<path d="M85.50,284.80 L85.47,286.46 L85.36,287.79 L85.19,289.01 L84.95,290.15 L84.64,291.23 L84.26,292.26 L83.82,293.24 L83.31,294.17 L82.74,295.05 L82.10,295.88 L81.40,296.66 L80.65,297.38 L79.83,298.06 L78.95,298.68 L78.02,299.24 L77.03,299.75 L75.99,300.20 L74.89,300.60 L73.73,300.93 L72.51,301.21 L71.23,301.42 L69.86,301.58 L68.37,301.67 L66.50,301.70 L64.63,301.67 L63.14,301.58 L61.77,301.42 L60.49,301.21 L59.27,300.93 L58.11,300.60 L57.01,300.20 L55.97,299.75 L54.98,299.24 L54.05,298.68 L53.17,298.06 L52.35,297.38 L51.60,296.66 L50.90,295.88 L50.26,295.05 L49.69,294.17 L49.18,293.24 L48.74,292.26 L48.36,291.23 L48.05,290.15 L47.81,289.01 L47.64,287.79 L47.53,286.46 L47.50,284.80 Q66.50,282.80 85.50,284.80 Z" fill="url(#gb)" stroke="#111" stroke-width="1.3" />
<rect x="49.0" y="287.2" width="35.0" height="2.4" fill="#b6c7ea"/>
<path d="M48.0,288.4 L56.0,288.4 Q58.0,290.6 60.5,290.6 L77.5,290.6 Q79.5,290.6 81.0,288.4 L85.0,288.4" fill="none" stroke="#111" stroke-width="1.2" />
<path d="M48.0,288.1 L56.0,288.1 Q58.0,289.4 60.5,289.3 L72.5,289.3" fill="none" stroke="#111" stroke-width="0.7" />
<line x1="61.90" y1="286.50" x2="61.90" y2="290.30" stroke="#111" stroke-width="1.25" />
<line x1="64.25" y1="286.50" x2="64.25" y2="290.30" stroke="#111" stroke-width="1.25" />
<line x1="66.60" y1="286.50" x2="66.60" y2="290.30" stroke="#111" stroke-width="1.25" />
<line x1="68.95" y1="286.50" x2="68.95" y2="290.30" stroke="#111" stroke-width="1.25" />
<line x1="71.30" y1="286.50" x2="71.30" y2="290.30" stroke="#111" stroke-width="1.25" />
<line x1="47.60" y1="283.20" x2="85.40" y2="283.20" stroke="#111" stroke-width="1.2" />
<text x="67.60" y="264.30" font-size="10.6" text-anchor="middle" fill="#1a1a1a" >RNAP</text>
<path d="M139.4,290.5 C138.0,296 138.3,302 140.5,305.5 C143,309.6 147.5,310.8 151.4,310.8 C156,310.8 161,309.5 164.2,305.4 L164.2,291.5 Z" fill="url(#gp)" stroke="#111" stroke-width="1.3" />
<path d="M164.6,287.0 C167.6,289.3 171.0,294 171.9,299 C172.7,305 171.9,311 170.3,313.6 C169,315.7 166.5,316.3 165.2,314.3 C164,312 163.8,308 163.9,305.4 L163.6,292 Z" fill="url(#gp)" stroke="#111" stroke-width="1.3" />
<path d="M139.5,288.6 C137.8,284.5 137.9,279 140.5,276.8 C143.5,274.2 147.5,273.4 151.4,273.4 C157.5,273.4 162.5,276 164.3,281.4 C165.0,284 165.2,286 164.6,287.6 L163.0,292.0 L141.2,292.0 Z" fill="url(#gp)" stroke="#111" stroke-width="1.3" />
<line x1="138.50" y1="283.20" x2="159.00" y2="283.20" stroke="#111" stroke-width="1.2" />
<line x1="160.30" y1="283.20" x2="166.00" y2="283.20" stroke="#111" stroke-width="1.2" />
<path d="M137.8,288.4 L140.5,288.4 L141.8,292.2 L162.8,292.2 L164.5,288.4 L167,288.4" fill="none" stroke="#111" stroke-width="1.2" />
<line x1="142.60" y1="295.00" x2="142.60" y2="298.00" stroke="#111" stroke-width="0.9" />
<line x1="144.45" y1="295.00" x2="144.45" y2="298.00" stroke="#111" stroke-width="0.9" />
<line x1="146.30" y1="295.00" x2="146.30" y2="298.00" stroke="#111" stroke-width="0.9" />
<line x1="148.15" y1="295.00" x2="148.15" y2="298.00" stroke="#111" stroke-width="0.9" />
<line x1="150.00" y1="295.00" x2="150.00" y2="298.00" stroke="#111" stroke-width="0.9" />
<line x1="151.85" y1="295.00" x2="151.85" y2="298.00" stroke="#111" stroke-width="0.9" />
<line x1="153.70" y1="295.00" x2="153.70" y2="298.00" stroke="#111" stroke-width="0.9" />
<line x1="155.55" y1="295.00" x2="155.55" y2="298.00" stroke="#111" stroke-width="0.9" />
<line x1="157.40" y1="295.00" x2="157.40" y2="298.00" stroke="#111" stroke-width="0.9" />
<line x1="159.25" y1="295.00" x2="159.25" y2="298.00" stroke="#111" stroke-width="0.9" />
<line x1="161.10" y1="295.00" x2="161.10" y2="298.00" stroke="#111" stroke-width="0.9" />
<line x1="142.00" y1="299.30" x2="172.50" y2="299.30" stroke="#3a2a20" stroke-width="0.9" />
<line x1="165.80" y1="299.30" x2="165.80" y2="312.00" stroke="#5a4030" stroke-width="0.9" />
<line x1="152.80" y1="299.50" x2="158.40" y2="327.20" stroke="#111" stroke-width="1.1" />
<text x="162.30" y="336.90" font-size="10.6" text-anchor="middle" fill="#1a1a1a" >sgRNA</text>
<text x="155.40" y="269.60" font-size="10.7" text-anchor="middle" fill="#1a1a1a" >Cas9-RNP</text>
<line x1="195.70" y1="283.20" x2="217.60" y2="260.00" stroke="#111" stroke-width="1.2" />
<line x1="196.20" y1="288.40" x2="213.90" y2="313.40" stroke="#111" stroke-width="1.2" />
<text x="191.60" y="257.30" font-size="10.7" text-anchor="start" fill="#1a1a1a" >Non-template (NT)</text>
<text x="190.30" y="323.40" font-size="10.7" text-anchor="start" fill="#1a1a1a" >Template (T)</text>
<line x1="11.60" y1="399.30" x2="223.60" y2="399.30" stroke="#111" stroke-width="1.2" />
<line x1="11.60" y1="404.10" x2="223.60" y2="404.10" stroke="#111" stroke-width="1.2" />
<rect x="14.30" y="399.90" width="22.20" height="3.60" fill="#bccbeb" stroke="#223" stroke-width="0.6" />
<path d="M24.1,399.3 L24.1,393.0 L29.5,393.0" fill="none" stroke="#111" stroke-width="2.1" />
<path d="M29.0,389.7 L33.0,393.0 L29.0,396.3 Z" fill="#111" stroke="none" stroke-width="0" />
<text x="6.90" y="387.70" font-size="5.7" text-anchor="start" fill="#1a1a1a" stroke="#333" stroke-width="0.25">RNAP promoter</text>
<path d="M32.0,417.8 Q40,406 52.5,404.3" fill="none" stroke="#111" stroke-width="1.0" />
<path d="M89.20,399.30 L89.17,397.82 L89.06,396.63 L88.89,395.54 L88.65,394.52 L88.34,393.55 L87.96,392.63 L87.52,391.76 L87.01,390.93 L86.44,390.14 L85.80,389.40 L85.10,388.71 L84.35,388.06 L83.53,387.45 L82.65,386.90 L81.72,386.39 L80.73,385.94 L79.69,385.54 L78.59,385.18 L77.43,384.88 L76.21,384.64 L74.93,384.45 L73.56,384.31 L72.07,384.23 L70.20,384.20 L68.33,384.23 L66.84,384.31 L65.47,384.45 L64.19,384.64 L62.97,384.88 L61.81,385.18 L60.71,385.54 L59.67,385.94 L58.68,386.39 L57.75,386.90 L56.87,387.45 L56.05,388.06 L55.30,388.71 L54.60,389.40 L53.96,390.14 L53.39,390.93 L52.88,391.76 L52.44,392.63 L52.06,393.55 L51.75,394.52 L51.51,395.54 L51.34,396.63 L51.23,397.82 L51.20,399.30 Z" fill="url(#gb)" stroke="#111" stroke-width="1.3" />
<path d="M89.20,400.90 L89.17,402.53 L89.06,403.83 L88.89,405.03 L88.65,406.15 L88.34,407.22 L87.96,408.23 L87.52,409.19 L87.01,410.10 L86.44,410.97 L85.80,411.78 L85.10,412.55 L84.35,413.26 L83.53,413.92 L82.65,414.53 L81.72,415.09 L80.73,415.59 L79.69,416.03 L78.59,416.42 L77.43,416.75 L76.21,417.02 L74.93,417.23 L73.56,417.38 L72.07,417.47 L70.20,417.50 L68.33,417.47 L66.84,417.38 L65.47,417.23 L64.19,417.02 L62.97,416.75 L61.81,416.42 L60.71,416.03 L59.67,415.59 L58.68,415.09 L57.75,414.53 L56.87,413.92 L56.05,413.26 L55.30,412.55 L54.60,411.78 L53.96,410.97 L53.39,410.10 L52.88,409.19 L52.44,408.23 L52.06,407.22 L51.75,406.15 L51.51,405.03 L51.34,403.83 L51.23,402.53 L51.20,400.90 Q70.20,398.90 89.20,400.90 Z" fill="url(#gb)" stroke="#111" stroke-width="1.3" />
<rect x="52.7" y="402.9" width="35.0" height="2.4" fill="#b6c7ea"/>
<path d="M51.7,404.1 L59.7,404.1 Q61.7,406.3 64.2,406.3 L81.2,406.3 Q83.2,406.3 84.7,404.1 L88.7,404.1" fill="none" stroke="#111" stroke-width="1.2" />
<path d="M51.7,403.8 L59.7,403.8 Q61.7,405.1 64.2,405.0 L76.2,405.0" fill="none" stroke="#111" stroke-width="0.7" />
<line x1="65.60" y1="402.20" x2="65.60" y2="406.00" stroke="#111" stroke-width="1.25" />
<line x1="67.95" y1="402.20" x2="67.95" y2="406.00" stroke="#111" stroke-width="1.25" />
<line x1="70.30" y1="402.20" x2="70.30" y2="406.00" stroke="#111" stroke-width="1.25" />
<line x1="72.65" y1="402.20" x2="72.65" y2="406.00" stroke="#111" stroke-width="1.25" />
<line x1="75.00" y1="402.20" x2="75.00" y2="406.00" stroke="#111" stroke-width="1.25" />
<line x1="51.40" y1="399.30" x2="89.00" y2="399.30" stroke="#111" stroke-width="1.2" />
<path d="M155.0,399.6 C152.5,404 154.5,414 167.5,414 C180.5,414 182.2,404 180.2,399.6 Z" fill="url(#gp)" stroke="#111" stroke-width="1.3" />
<path d="M153.4,399.4 C150.6,397.2 148.4,394.2 147.5,390.5 C146.6,386 146.6,379 147.4,375.6 C148.1,373 149.6,372.0 151.4,372.0 C153.5,372.0 154.9,373.6 155.3,376.6 L155.3,380.2 C157.5,378.0 161.5,376.9 166.4,376.9 C175.5,376.9 182.4,383 180.8,393 C180.2,396 180,398 180.4,399.4 Z" fill="url(#gp)" stroke="#111" stroke-width="1.3" />
<line x1="155.30" y1="376.40" x2="155.30" y2="387.80" stroke="#3a2a20" stroke-width="1.0" />
<line x1="147.50" y1="399.40" x2="155.40" y2="399.40" stroke="#111" stroke-width="1.2" />
<line x1="180.20" y1="399.40" x2="186.00" y2="399.40" stroke="#111" stroke-width="1.2" />
<path d="M156.6,397.2 L158.0,394.8 L177.4,394.8 L179.5,399.4" fill="none" stroke="#111" stroke-width="1.1" />
<line x1="153.40" y1="404.10" x2="158.80" y2="404.10" stroke="#111" stroke-width="1.2" />
<line x1="160.00" y1="404.10" x2="182.50" y2="404.10" stroke="#111" stroke-width="1.2" />
<line x1="157.20" y1="389.60" x2="157.20" y2="392.40" stroke="#111" stroke-width="0.9" />
<line x1="159.15" y1="389.60" x2="159.15" y2="392.40" stroke="#111" stroke-width="0.9" />
<line x1="161.10" y1="389.60" x2="161.10" y2="392.40" stroke="#111" stroke-width="0.9" />
<line x1="163.05" y1="389.60" x2="163.05" y2="392.40" stroke="#111" stroke-width="0.9" />
<line x1="165.00" y1="389.60" x2="165.00" y2="392.40" stroke="#111" stroke-width="0.9" />
<line x1="166.95" y1="389.60" x2="166.95" y2="392.40" stroke="#111" stroke-width="0.9" />
<line x1="168.90" y1="389.60" x2="168.90" y2="392.40" stroke="#111" stroke-width="0.9" />
<line x1="170.85" y1="389.60" x2="170.85" y2="392.40" stroke="#111" stroke-width="0.9" />
<line x1="172.80" y1="389.60" x2="172.80" y2="392.40" stroke="#111" stroke-width="0.9" />
<line x1="174.75" y1="389.60" x2="174.75" y2="392.40" stroke="#111" stroke-width="0.9" />
<line x1="176.70" y1="389.60" x2="176.70" y2="392.40" stroke="#111" stroke-width="0.9" />
<line x1="155.00" y1="387.60" x2="178.30" y2="387.60" stroke="#3a2a20" stroke-width="0.9" />
<text x="5.60" y="480.20" font-size="14.5" text-anchor="start" fill="#1a1a1a" >E</text>
<line x1="52.80" y1="479.80" x2="258.50" y2="479.80" stroke="#333" stroke-width="1.4" />
<line x1="52.80" y1="482.60" x2="258.50" y2="482.60" stroke="#333" stroke-width="1.4" />
<text x="39.6" y="484.2" font-size="6.9" font-style="italic" fill="#1a1a1a">TTN</text>
<text x="50.50" y="475.40" font-size="7.3" text-anchor="start" fill="#1a1a1a" >transcriptionally silent gene</text>
<rect x="225.70" y="479.20" width="32.80" height="4.50" fill="#23283f" stroke="none" stroke-width="1" />
<path d="M258.3,479.1 L260.0,479.1 M258.3,483.8 L260.0,483.8" fill="none" stroke="#23283f" stroke-width="0.9" />
<text x="229.00" y="477.60" font-size="8.6" text-anchor="start" fill="#1a1a1a" >exon 1</text>
<rect x="148.00" y="475.75" width="11.80" height="2.30" fill="#2b2b2b" stroke="none" stroke-width="1" />
<line x1="148.70" y1="476.30" x2="148.70" y2="477.50" stroke="#9a9a9a" stroke-width="0.35" />
<line x1="150.20" y1="476.30" x2="150.20" y2="477.50" stroke="#9a9a9a" stroke-width="0.35" />
<line x1="151.70" y1="476.30" x2="151.70" y2="477.50" stroke="#9a9a9a" stroke-width="0.35" />
<line x1="153.20" y1="476.30" x2="153.20" y2="477.50" stroke="#9a9a9a" stroke-width="0.35" />
<line x1="154.70" y1="476.30" x2="154.70" y2="477.50" stroke="#9a9a9a" stroke-width="0.35" />
<line x1="156.20" y1="476.30" x2="156.20" y2="477.50" stroke="#9a9a9a" stroke-width="0.35" />
<line x1="157.70" y1="476.30" x2="157.70" y2="477.50" stroke="#9a9a9a" stroke-width="0.35" />
<path d="M161.4,468.4 L161.4,477.3 Q162.4,477.9 165.6,476.8" fill="none" stroke="#1a1a1a" stroke-width="1.4" />
<rect x="144.30" y="484.05" width="11.70" height="2.30" fill="#2b2b2b" stroke="none" stroke-width="1" />
<line x1="145.00" y1="484.60" x2="145.00" y2="485.80" stroke="#9a9a9a" stroke-width="0.35" />
<line x1="146.50" y1="484.60" x2="146.50" y2="485.80" stroke="#9a9a9a" stroke-width="0.35" />
<line x1="148.00" y1="484.60" x2="148.00" y2="485.80" stroke="#9a9a9a" stroke-width="0.35" />
<line x1="149.50" y1="484.60" x2="149.50" y2="485.80" stroke="#9a9a9a" stroke-width="0.35" />
<line x1="151.00" y1="484.60" x2="151.00" y2="485.80" stroke="#9a9a9a" stroke-width="0.35" />
<line x1="152.50" y1="484.60" x2="152.50" y2="485.80" stroke="#9a9a9a" stroke-width="0.35" />
<line x1="154.00" y1="484.60" x2="154.00" y2="485.80" stroke="#9a9a9a" stroke-width="0.35" />
<path d="M157.1,494.6 L157.1,484.8 Q158.1,484.2 161.1,485.3" fill="none" stroke="#1a1a1a" stroke-width="1.4" />
<rect x="176.90" y="475.75" width="12.30" height="2.30" fill="#2b2b2b" stroke="none" stroke-width="1" />
<line x1="177.60" y1="476.30" x2="177.60" y2="477.50" stroke="#9a9a9a" stroke-width="0.35" />
<line x1="179.10" y1="476.30" x2="179.10" y2="477.50" stroke="#9a9a9a" stroke-width="0.35" />
<line x1="180.60" y1="476.30" x2="180.60" y2="477.50" stroke="#9a9a9a" stroke-width="0.35" />
<line x1="182.10" y1="476.30" x2="182.10" y2="477.50" stroke="#9a9a9a" stroke-width="0.35" />
<line x1="183.60" y1="476.30" x2="183.60" y2="477.50" stroke="#9a9a9a" stroke-width="0.35" />
<line x1="185.10" y1="476.30" x2="185.10" y2="477.50" stroke="#9a9a9a" stroke-width="0.35" />
<line x1="186.60" y1="476.30" x2="186.60" y2="477.50" stroke="#9a9a9a" stroke-width="0.35" />
<line x1="188.10" y1="476.30" x2="188.10" y2="477.50" stroke="#9a9a9a" stroke-width="0.35" />
<path d="M190.3,468.4 L190.3,477.3 Q191.3,477.9 194.5,476.8" fill="none" stroke="#1a1a1a" stroke-width="1.4" />
<rect x="180.10" y="484.05" width="12.30" height="2.30" fill="#2b2b2b" stroke="none" stroke-width="1" />
<line x1="180.80" y1="484.60" x2="180.80" y2="485.80" stroke="#9a9a9a" stroke-width="0.35" />
<line x1="182.30" y1="484.60" x2="182.30" y2="485.80" stroke="#9a9a9a" stroke-width="0.35" />
<line x1="183.80" y1="484.60" x2="183.80" y2="485.80" stroke="#9a9a9a" stroke-width="0.35" />
<line x1="185.30" y1="484.60" x2="185.30" y2="485.80" stroke="#9a9a9a" stroke-width="0.35" />
<line x1="186.80" y1="484.60" x2="186.80" y2="485.80" stroke="#9a9a9a" stroke-width="0.35" />
<line x1="188.30" y1="484.60" x2="188.30" y2="485.80" stroke="#9a9a9a" stroke-width="0.35" />
<line x1="189.80" y1="484.60" x2="189.80" y2="485.80" stroke="#9a9a9a" stroke-width="0.35" />
<line x1="191.30" y1="484.60" x2="191.30" y2="485.80" stroke="#9a9a9a" stroke-width="0.35" />
<path d="M193.5,494.6 L193.5,484.8 Q194.5,484.2 197.5,485.3" fill="none" stroke="#1a1a1a" stroke-width="1.4" />
<text x="153.20" y="473.20" font-size="6.2" text-anchor="middle" fill="#1a1a1a" stroke="#333" stroke-width="0.2">NT1</text>
<text x="182.20" y="473.20" font-size="6.2" text-anchor="middle" fill="#1a1a1a" stroke="#333" stroke-width="0.2">NT2</text>
<text x="151.00" y="493.50" font-size="6.2" text-anchor="middle" fill="#1a1a1a" stroke="#333" stroke-width="0.2">T1</text>
<text x="186.40" y="493.50" font-size="6.2" text-anchor="middle" fill="#1a1a1a" stroke="#333" stroke-width="0.2">T2</text>
<line x1="55.20" y1="541.60" x2="258.50" y2="541.60" stroke="#333" stroke-width="1.4" />
<line x1="55.20" y1="544.60" x2="258.50" y2="544.60" stroke="#333" stroke-width="1.4" />
<text x="40.6" y="546.0" font-size="6.9" font-style="italic" fill="#1a1a1a">TTN</text>
<rect x="226.70" y="541.00" width="31.80" height="4.50" fill="#23283f" stroke="none" stroke-width="1" />
<path d="M258.3,540.9 L260.0,540.9 M258.3,545.6 L260.0,545.6" fill="none" stroke="#23283f" stroke-width="0.9" />
<text x="230.30" y="540.30" font-size="8.6" text-anchor="start" fill="#1a1a1a" >exon 1</text>
<rect x="149.30" y="537.25" width="12.10" height="2.30" fill="#2b2b2b" stroke="none" stroke-width="1" />
<line x1="150.00" y1="537.80" x2="150.00" y2="539.00" stroke="#9a9a9a" stroke-width="0.35" />
<line x1="151.50" y1="537.80" x2="151.50" y2="539.00" stroke="#9a9a9a" stroke-width="0.35" />
<line x1="153.00" y1="537.80" x2="153.00" y2="539.00" stroke="#9a9a9a" stroke-width="0.35" />
<line x1="154.50" y1="537.80" x2="154.50" y2="539.00" stroke="#9a9a9a" stroke-width="0.35" />
<line x1="156.00" y1="537.80" x2="156.00" y2="539.00" stroke="#9a9a9a" stroke-width="0.35" />
<line x1="157.50" y1="537.80" x2="157.50" y2="539.00" stroke="#9a9a9a" stroke-width="0.35" />
<line x1="159.00" y1="537.80" x2="159.00" y2="539.00" stroke="#9a9a9a" stroke-width="0.35" />
<line x1="160.50" y1="537.80" x2="160.50" y2="539.00" stroke="#9a9a9a" stroke-width="0.35" />
<path d="M163.1,529.8 L163.1,538.8 Q164.1,539.4 167.3,538.3" fill="none" stroke="#1a1a1a" stroke-width="1.4" />
<rect x="145.70" y="546.05" width="12.50" height="2.30" fill="#2b2b2b" stroke="none" stroke-width="1" />
<line x1="146.40" y1="546.60" x2="146.40" y2="547.80" stroke="#9a9a9a" stroke-width="0.35" />
<line x1="147.90" y1="546.60" x2="147.90" y2="547.80" stroke="#9a9a9a" stroke-width="0.35" />
<line x1="149.40" y1="546.60" x2="149.40" y2="547.80" stroke="#9a9a9a" stroke-width="0.35" />
<line x1="150.90" y1="546.60" x2="150.90" y2="547.80" stroke="#9a9a9a" stroke-width="0.35" />
<line x1="152.40" y1="546.60" x2="152.40" y2="547.80" stroke="#9a9a9a" stroke-width="0.35" />
<line x1="153.90" y1="546.60" x2="153.90" y2="547.80" stroke="#9a9a9a" stroke-width="0.35" />
<line x1="155.40" y1="546.60" x2="155.40" y2="547.80" stroke="#9a9a9a" stroke-width="0.35" />
<line x1="156.90" y1="546.60" x2="156.90" y2="547.80" stroke="#9a9a9a" stroke-width="0.35" />
<path d="M159.7,556.2 L159.7,546.8 Q160.7,546.2 163.7,547.3" fill="none" stroke="#1a1a1a" stroke-width="1.4" />
<rect x="178.50" y="537.25" width="12.10" height="2.30" fill="#2b2b2b" stroke="none" stroke-width="1" />
<line x1="179.20" y1="537.80" x2="179.20" y2="539.00" stroke="#9a9a9a" stroke-width="0.35" />
<line x1="180.70" y1="537.80" x2="180.70" y2="539.00" stroke="#9a9a9a" stroke-width="0.35" />
<line x1="182.20" y1="537.80" x2="182.20" y2="539.00" stroke="#9a9a9a" stroke-width="0.35" />
<line x1="183.70" y1="537.80" x2="183.70" y2="539.00" stroke="#9a9a9a" stroke-width="0.35" />
<line x1="185.20" y1="537.80" x2="185.20" y2="539.00" stroke="#9a9a9a" stroke-width="0.35" />
<line x1="186.70" y1="537.80" x2="186.70" y2="539.00" stroke="#9a9a9a" stroke-width="0.35" />
<line x1="188.20" y1="537.80" x2="188.20" y2="539.00" stroke="#9a9a9a" stroke-width="0.35" />
<line x1="189.70" y1="537.80" x2="189.70" y2="539.00" stroke="#9a9a9a" stroke-width="0.35" />
<path d="M192.0,529.8 L192.0,538.8 Q193.0,539.4 196.2,538.3" fill="none" stroke="#1a1a1a" stroke-width="1.4" />
<rect x="181.60" y="546.05" width="12.60" height="2.30" fill="#2b2b2b" stroke="none" stroke-width="1" />
<line x1="182.30" y1="546.60" x2="182.30" y2="547.80" stroke="#9a9a9a" stroke-width="0.35" />
<line x1="183.80" y1="546.60" x2="183.80" y2="547.80" stroke="#9a9a9a" stroke-width="0.35" />
<line x1="185.30" y1="546.60" x2="185.30" y2="547.80" stroke="#9a9a9a" stroke-width="0.35" />
<line x1="186.80" y1="546.60" x2="186.80" y2="547.80" stroke="#9a9a9a" stroke-width="0.35" />
<line x1="188.30" y1="546.60" x2="188.30" y2="547.80" stroke="#9a9a9a" stroke-width="0.35" />
<line x1="189.80" y1="546.60" x2="189.80" y2="547.80" stroke="#9a9a9a" stroke-width="0.35" />
<line x1="191.30" y1="546.60" x2="191.30" y2="547.80" stroke="#9a9a9a" stroke-width="0.35" />
<line x1="192.80" y1="546.60" x2="192.80" y2="547.80" stroke="#9a9a9a" stroke-width="0.35" />
<path d="M195.6,556.2 L195.6,546.8 Q196.6,546.2 199.6,547.3" fill="none" stroke="#1a1a1a" stroke-width="1.4" />
<text x="154.30" y="535.30" font-size="6.8" text-anchor="middle" fill="#1a1a1a" stroke="#333" stroke-width="0.2">NT1</text>
<text x="183.50" y="535.30" font-size="6.8" text-anchor="middle" fill="#1a1a1a" stroke="#333" stroke-width="0.2">NT2</text>
<text x="152.50" y="555.80" font-size="6.8" text-anchor="middle" fill="#1a1a1a" stroke="#333" stroke-width="0.2">T1</text>
<text x="188.50" y="555.80" font-size="6.8" text-anchor="middle" fill="#1a1a1a" stroke="#333" stroke-width="0.2">T2</text>
<text x="176.00" y="566.20" font-size="8.9" text-anchor="middle" fill="#1a1a1a" >20nt sgRNAs (DSB)</text>
<path d="M109.1,541.6 L109.1,537.4 L112.3,537.4" fill="none" stroke="#111" stroke-width="2.0" />
<path d="M111.6,534.6 L115.0,537.4 L111.6,540.2 Z" fill="#111" stroke="none" stroke-width="0" />
<line x1="110.80" y1="534.60" x2="118.10" y2="515.30" stroke="#111" stroke-width="1.1" />
<text x="116.00" y="513.10" font-size="8.7" text-anchor="start" fill="#1a1a1a" >Artificial TSS</text>
<path d="M70.4,513.2 C69.8,510.2 72.5,509.0 74.4,509.3 C77.5,509.8 79.5,512.5 79.3,517.5 C79.2,521 79.5,524.5 78.2,526.5 C77,528 74.5,527.5 73.9,525.2 C73.2,522.5 74.8,520 74.3,518.0 C73.8,516.2 71,515.5 70.4,513.2 Z" fill="#cfe8d4" stroke="#111" stroke-width="1.1" />
<path d="M80.3,541.6 C78.5,545 81,549.2 87.5,549.2 C94,549.2 96.5,545 95.0,541.6 Z" fill="url(#gp)" stroke="#111" stroke-width="1.2" />
<path d="M76.0,538.5 C75.3,533 75.2,526.5 77.6,525.2 C80,524.3 81,528 80.8,533 L80.6,540.5 Z" fill="url(#gp)" stroke="#111" stroke-width="1.1" />
<path d="M79.6,540.9 C77.5,536 78.5,527.1 87.3,527.1 C94.8,527.1 96.6,534 94.8,541.0 Z" fill="url(#gp)" stroke="#111" stroke-width="1.2" />
<rect x="80.80" y="535.30" width="8.50" height="1.90" fill="#222" stroke="none" stroke-width="1" />
<line x1="55.00" y1="525.20" x2="78.00" y2="533.80" stroke="#111" stroke-width="1.1" />
<line x1="77.50" y1="541.60" x2="97.50" y2="541.60" stroke="#333" stroke-width="1.4" />
<line x1="77.50" y1="544.60" x2="97.50" y2="544.60" stroke="#333" stroke-width="1.4" />
<text x="54.00" y="515.30" font-size="8.65" text-anchor="end" fill="#1a1a1a" >14nt sgRNA</text>
<text x="54.00" y="525.70" font-size="8.75" text-anchor="end" fill="#1a1a1a" >(no DSB)</text>
<text x="91.20" y="556.80" font-size="8.9" text-anchor="middle" fill="#1a1a1a" >Cas9-VPR</text>
</svg>
</body></html>
